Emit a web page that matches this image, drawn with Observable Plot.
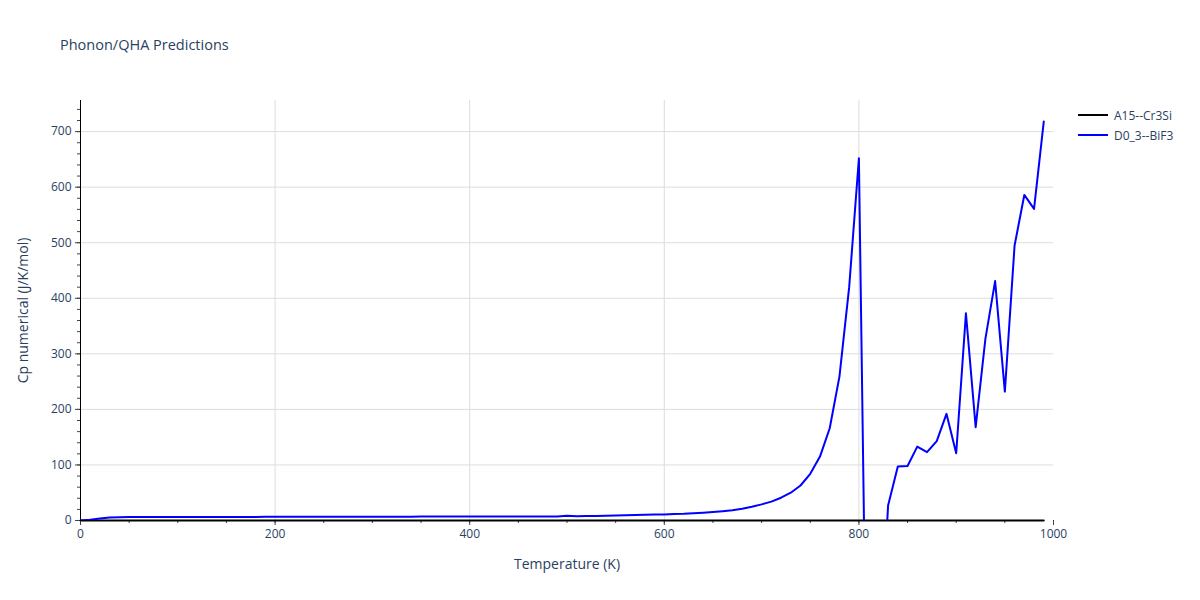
<!DOCTYPE html>
<html>
<head>
<meta charset="utf-8">
<script src="https://cdn.jsdelivr.net/npm/d3@7"></script>
<script src="https://cdn.jsdelivr.net/npm/@observablehq/plot@0.6"></script>
<style>
  html, body { margin: 0; padding: 0; background: #fff; }
  #wrap { position: relative; width: 1200px; height: 600px; font-family: "Open Sans", "DejaVu Sans", sans-serif; color: #2a3f5f; }
  #title { position: absolute; left: 60px; top: 35px; font-size: 14.5px; color: #2a3f5f; }
  #legend { position: absolute; left: 1078px; top: 105px; font-size: 12px; color: #2a3f5f; }
  #legend .row { display: flex; align-items: center; height: 20px; }
  #legend svg { margin-right: 6px; }
  #chart { position: absolute; left: 0; top: 0; }
</style>
</head>
<body>
<div id="wrap">
  <div id="chart"></div>
  <div id="title">Phonon/QHA Predictions</div>
  <div id="legend"></div>
</div>
<script>
const temperatures = [0,10,20,30,40,50,60,70,80,90,100,110,120,130,140,150,160,170,180,190,200,210,220,230,240,250,260,270,280,290,300,310,320,330,340,350,360,370,380,390,400,410,420,430,440,450,460,470,480,490,500,510,520,530,540,550,560,570,580,590,600,610,620,630,640,650,660,670,680,690,700,710,720,730,740,750,760,770,780,790,800,810,820,830,840,850,860,870,880,890,900,910,920,930,940,950,960,970,980,990];

const cr3si = [0,0,0,0,0,0,0,0,0,0,0,0,0,0,0,0,0,0,0,0,0,0,0,0,0,0,0,0,0,0,0,0,0,0,0,0,0,0,0,0,0,0,0,0,0,0,0,0,0,0,0,0,0,0,0,0,0,0,0,0,0,0,0,0,0,0,0,0,0,0,0,0,0,0,0,0,0,0,0,0,0,0,0,0,0,0,0,0,0,0,0,0,0,0,0,0,0,0,0,0];

const bif3 = [0,1.5,3.5,5.5,6,6.1,6.2,6.2,6.3,6.3,6.3,6.4,6.4,6.4,6.4,6.5,6.5,6.5,6.5,6.6,6.6,6.6,6.6,6.7,6.7,6.7,6.7,6.8,6.8,6.8,6.8,6.9,6.9,6.9,6.9,7.0,7.0,7.0,7.0,7.1,7.1,7.1,7.1,7.2,7.2,7.2,7.2,7.3,7.3,7.4,8.5,7.6,8.0,8.3,8.6,9.0,9.4,9.8,10.2,10.6,11.0,11.5,12.0,13.0,14.0,15.3,16.8,18.5,21.0,24.6,29,34,41,50,63,84,115,166,259,420,652,-600,-300,27,97,98,133,123,143,192,121,373,168,327,431,232,495,586,561,718];

const seriesNames = ["A15--Cr3Si", "D0_3--BiF3"];
const seriesColors = ["#000000", "#0000ff"];
const xMajor = [0,200,400,600,800,1000];
const yMajor = [0,100,200,300,400,500,600,700];

const rowsA = temperatures.map((t, i) => ({T: t, v: cr3si[i], s: seriesNames[0]}));
const rowsB = temperatures.map((t, i) => ({T: t, v: bif3[i], s: seriesNames[1]}));

const chart = Plot.plot({
  width: 1200,
  height: 600,
  marginLeft: 80,
  marginRight: 147,
  marginTop: 100,
  marginBottom: 80,
  style: {fontFamily: '"Open Sans", "DejaVu Sans", sans-serif', fontSize: "12px", color: "#2a3f5f", background: "#fff"},
  x: {domain: [0, 1000]},
  y: {domain: [0, 756]},
  color: {domain: seriesNames, range: seriesColors},
  marks: [
    Plot.gridX(xMajor.filter(d => d > 0 && d < 1000), {stroke: "#dddddd", strokeOpacity: 1}),
    Plot.gridY(yMajor.filter(d => d > 0), {stroke: "#dddddd", strokeOpacity: 1}),
    Plot.axisX(d3.range(0, 1001, 50), {tickSize: 3, text: null, label: null, stroke: "#444"}),
    Plot.axisX(xMajor, {tickSize: 5, tickPadding: 4, tickFormat: d => String(d), stroke: "#444", fill: "#2a3f5f", fontSize: 12, label: "Temperature (K)", labelAnchor: "center", labelArrow: "none", labelOffset: 48}),
    Plot.axisY(d3.range(0, 757, 20), {tickSize: 3, text: null, label: null, stroke: "#444"}),
    Plot.axisY(yMajor, {tickSize: 5, tickPadding: 4, tickFormat: d => String(d), stroke: "#444", fill: "#2a3f5f", fontSize: 12, label: "Cp numerical (J/K/mol)", labelAnchor: "center", labelArrow: "none", labelOffset: 62}),
    Plot.ruleX([0], {stroke: "#000", strokeWidth: 1}),
    Plot.line(rowsA, {x: "T", y: "v", stroke: "s", strokeWidth: 2}),
    Plot.line(rowsB, {x: "T", y: "v", stroke: "s", strokeWidth: 2, clip: true})
  ]
});
chart.querySelectorAll('[aria-label="x-axis label"] text, [aria-label="y-axis label"] text').forEach(t => { t.style.fontSize = "14px"; t.setAttribute("fill", "#2a3f5f"); });
document.getElementById("chart").appendChild(chart);

const legend = document.getElementById("legend");
seriesNames.forEach((name, i) => {
  const row = document.createElement("div");
  row.className = "row";
  row.innerHTML = `<svg width="30" height="10"><line x1="0" y1="5" x2="30" y2="5" stroke="${seriesColors[i]}" stroke-width="2"/></svg><span>${name}</span>`;
  legend.appendChild(row);
});
</script>
</body>
</html>
